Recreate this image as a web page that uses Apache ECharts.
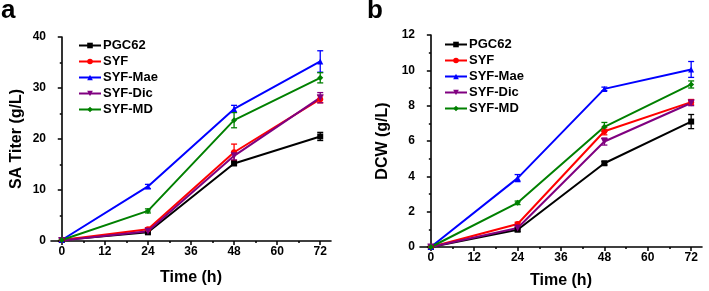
<!DOCTYPE html>
<html>
<head>
<meta charset="utf-8">
<script src="https://cdn.jsdelivr.net/npm/echarts@6/dist/echarts.min.js"></script>
<style>
  html, body { margin: 0; padding: 0; background: #fff; }
  #main { width: 709px; height: 291px; }
</style>
</head>
<body>
<div id="main"></div>
<script>
var hours = [0, 24, 48, 72];
var strains = ['PGC62', 'SYF', 'SYF-Mae', 'SYF-Dic', 'SYF-MD'];
var colors = ['#000000', '#ff0000', '#0000ff', '#800080', '#008000'];
var symbols = ['rect', 'circle', 'triangle', 'path://M0,0L10,0L5,10Z', 'diamond'];

// SA titer (g/L), panel a
var titer = [
  [0.2, 1.7, 15.2, 20.5],
  [0.2, 2.3, 17.4, 27.8],
  [0.2, 10.7, 25.9, 35.2],
  [0.1, 1.9, 16.7, 28.1],
  [0.2, 5.9, 23.7, 32.0]
];
var titerErr = [
  [0, 0.3, 0.3, 0.8],
  [0, 0.3, 1.6, 0.7],
  [0, 0.4, 0.7, 2.1],
  [0, 0.3, 0.8, 1.0],
  [0, 0.4, 1.5, 1.0]
];
// DCW (g/L), panel b
var dcw = [
  [0, 0.98, 4.74, 7.1],
  [0, 1.3, 6.55, 8.2],
  [0, 3.9, 8.95, 10.05],
  [0, 1.08, 5.97, 8.15],
  [0, 2.5, 6.8, 9.2]
];
var dcwErr = [
  [0, 0.1, 0.1, 0.4],
  [0, 0.1, 0.2, 0.15],
  [0, 0.2, 0.1, 0.45],
  [0, 0.1, 0.2, 0.15],
  [0, 0.1, 0.25, 0.2]
];

var majorTicks = [0, 12, 24, 36, 48, 60, 72];
var minorTicks = [6, 18, 30, 42, 54, 66];

var FONT = 'Arial, "Liberation Sans", sans-serif';
var chart = echarts.init(document.getElementById('main'));

function xAxes(gi) {
  return [{
    type: 'value', gridIndex: gi, min: -3, max: 75, position: 'bottom',
    axisLine: { lineStyle: { color: '#000', width: 1.6 } },
    axisTick: { customValues: majorTicks, length: 4, lineStyle: { color: '#000', width: 1.5 } },
    axisLabel: { customValues: majorTicks, color: '#000', fontWeight: 'bold', fontSize: 12, fontFamily: FONT, margin: 5 },
    splitLine: { show: false },
    name: 'Time (h)', nameLocation: 'middle', nameGap: gi == 0 ? 29 : 26,
    nameTextStyle: { color: '#000', fontWeight: 'bold', fontSize: 16, fontFamily: FONT }
  }, {
    type: 'value', gridIndex: gi, min: -3, max: 75, position: 'bottom',
    axisLine: { show: false },
    axisTick: { customValues: minorTicks, length: 2, lineStyle: { color: '#000', width: 1.5 } },
    axisLabel: { show: false },
    splitLine: { show: false }
  }];
}

function yAxis(gi, max, step, title, gap) {
  return {
    type: 'value', gridIndex: gi, min: 0, max: max, interval: step,
    axisLine: { show: true, lineStyle: { color: '#000', width: 1.6 } },
    axisTick: { show: true, length: 4, lineStyle: { color: '#000', width: 1.5 } },
    minorTick: { show: true, splitNumber: 2, length: 2, lineStyle: { color: '#000', width: 1.5 } },
    axisLabel: { color: '#000', fontWeight: 'bold', fontSize: 12, fontFamily: FONT, margin: 5 },
    splitLine: { show: false },
    name: title, nameLocation: 'middle', nameGap: gap,
    nameTextStyle: { color: '#000', fontWeight: 'bold', fontSize: 16, fontFamily: FONT }
  };
}

var series = [];
function addPanel(gi, values, errs) {
  strains.forEach(function (name, i) {
    var pts = hours.map(function (h, j) { return [h, values[i][j], errs[i][j]]; });
    series.push({
      type: 'custom', name: name + '-err' + gi,
      xAxisIndex: gi * 2, yAxisIndex: gi,
      data: pts, z: 3, silent: true,
      renderItem: function (params, api) {
        var e = api.value(2);
        if (!e) return;
        var top = api.coord([api.value(0), api.value(1) + e]);
        var bot = api.coord([api.value(0), api.value(1) - e]);
        var w = 3;
        var st = { stroke: colors[i], lineWidth: 1.3 };
        return {
          type: 'group', children: [
            { type: 'line', shape: { x1: top[0], y1: top[1], x2: bot[0], y2: bot[1] }, style: st },
            { type: 'line', shape: { x1: top[0] - w, y1: top[1], x2: top[0] + w, y2: top[1] }, style: st },
            { type: 'line', shape: { x1: bot[0] - w, y1: bot[1], x2: bot[0] + w, y2: bot[1] }, style: st }
          ]
        };
      }
    });
    series.push({
      type: 'line', name: name,
      xAxisIndex: gi * 2, yAxisIndex: gi,
      data: pts.map(function (p) { return [p[0], p[1]]; }),
      symbol: symbols[i], symbolSize: i == 3 ? 7 : 6, showSymbol: true,
      lineStyle: { color: colors[i], width: 2 },
      itemStyle: { color: colors[i] },
      z: 4
    });
  });
}
addPanel(0, titer, titerErr);
addPanel(1, dcw, dcwErr);

function legend(left, top) {
  return {
    data: strains, orient: 'vertical', left: left, top: top,
    itemWidth: 22, itemHeight: 7, itemGap: 3,
    textStyle: { color: '#000', fontWeight: 'bold', fontSize: 13, fontFamily: FONT, padding: [0, 0, 0, -3] },
    selectedMode: false
  };
}

chart.setOption({
  animation: false,
  grid: [
    { left: 51, top: 37, width: 280, height: 204, outerBoundsMode: 'none' },
    { left: 420, top: 35, width: 282, height: 212, outerBoundsMode: 'none' }
  ],
  xAxis: xAxes(0).concat(xAxes(1)),
  yAxis: [
    yAxis(0, 40, 10, 'SA Titer (g/L)', 26),
    yAxis(1, 12, 2, 'DCW (g/L)', 29)
  ],
  legend: [legend(73, 34), legend(439, 33)],
  graphic: [
    { type: 'text', left: 1, top: -2, style: { text: 'a', font: 'bold 26px ' + FONT, fill: '#000' } },
    { type: 'text', left: 367, top: -2, style: { text: 'b', font: 'bold 26px ' + FONT, fill: '#000' } }
  ],
  series: series
});
</script>
</body>
</html>
